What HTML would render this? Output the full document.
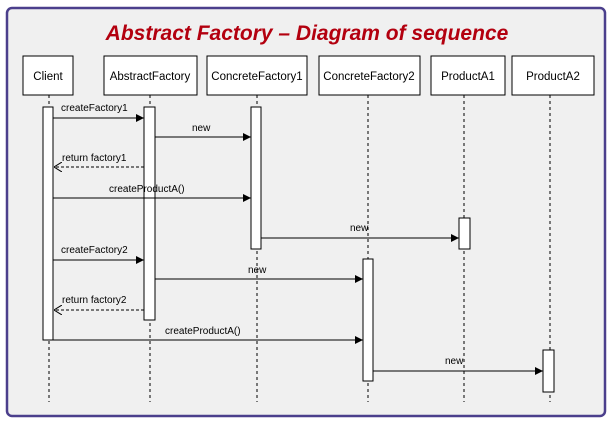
<!DOCTYPE html>
<html><head><style>
body{margin:0;width:614px;height:424px;background:#fff;overflow:hidden}
</style></head><body>
<svg width="614" height="424" xmlns="http://www.w3.org/2000/svg" font-family="Liberation Sans, sans-serif">
<defs>
<marker id="a" markerWidth="8" markerHeight="8" refX="8" refY="4" orient="auto" markerUnits="userSpaceOnUse"><path d="M0,0 L8,4 L0,8 z" fill="#000"/></marker>
<marker id="o" markerWidth="8" markerHeight="10" refX="8" refY="5" orient="auto" markerUnits="userSpaceOnUse"><path d="M0,0 L8,5 L0,10" fill="none" stroke="#000"/></marker>
</defs>
<rect x="7" y="8" width="598" height="408" rx="5" fill="#f0f0f0" stroke="#4b3f8c" stroke-width="2.5"/>
<text x="307" y="40" text-anchor="middle" font-size="21" font-weight="bold" font-style="italic" fill="#b3000f" font-family="Liberation Sans, sans-serif">Abstract Factory – Diagram of sequence</text>
<g stroke="#000" stroke-dasharray="3,3" stroke-width="1">
<line x1="49" y1="95" x2="49" y2="402"/><line x1="150" y1="95" x2="150" y2="402"/><line x1="257" y1="95" x2="257" y2="402"/><line x1="368" y1="95" x2="368" y2="402"/><line x1="464" y1="95" x2="464" y2="402"/><line x1="550" y1="95" x2="550" y2="402"/>
</g>
<g fill="#fff" stroke="#000" stroke-width="1">
<rect x="23" y="56" width="50" height="39"/><rect x="104" y="56" width="93" height="39"/><rect x="207" y="56" width="100" height="39"/><rect x="319" y="56" width="101" height="39"/><rect x="431" y="56" width="74" height="39"/><rect x="512" y="56" width="82" height="39"/>
<rect x="43" y="107" width="10" height="233"/><rect x="144" y="107" width="11" height="213"/><rect x="251" y="107" width="10" height="142"/><rect x="459" y="218" width="11" height="31"/><rect x="363" y="259" width="10" height="122"/><rect x="543" y="350" width="11" height="42"/>
</g>
<g font-size="11.5" text-anchor="middle" fill="#000">
<text x="48" y="80">Client</text><text x="150" y="80">AbstractFactory</text><text x="257" y="80">ConcreteFactory1</text><text x="369" y="80">ConcreteFactory2</text><text x="468" y="80">ProductA1</text><text x="553" y="80">ProductA2</text>
</g>
<g stroke="#000" stroke-width="1" fill="none">
<line x1="53" y1="118" x2="144" y2="118" marker-end="url(#a)"/>
<line x1="155" y1="137" x2="251" y2="137" marker-end="url(#a)"/>
<line x1="144" y1="167" x2="54" y2="167" stroke-dasharray="3,2" marker-end="url(#o)"/>
<line x1="53" y1="198" x2="251" y2="198" marker-end="url(#a)"/>
<line x1="261" y1="238" x2="459" y2="238" marker-end="url(#a)"/>
<line x1="53" y1="260" x2="144" y2="260" marker-end="url(#a)"/>
<line x1="155" y1="279" x2="363" y2="279" marker-end="url(#a)"/>
<line x1="144" y1="310" x2="54" y2="310" stroke-dasharray="3,2" marker-end="url(#o)"/>
<line x1="43" y1="340" x2="363" y2="340" marker-end="url(#a)"/>
<line x1="373" y1="371" x2="543" y2="371" marker-end="url(#a)"/>
</g>
<g font-size="10" fill="#000">
<text x="61" y="111">createFactory1</text>
<text x="192" y="131">new</text>
<text x="62" y="161">return factory1</text>
<text x="109" y="192">createProductA()</text>
<text x="350" y="231">new</text>
<text x="61" y="253">createFactory2</text>
<text x="248" y="273">new</text>
<text x="62" y="303">return factory2</text>
<text x="165" y="334">createProductA()</text>
<text x="445" y="364">new</text>
</g>
</svg>
</body></html>
